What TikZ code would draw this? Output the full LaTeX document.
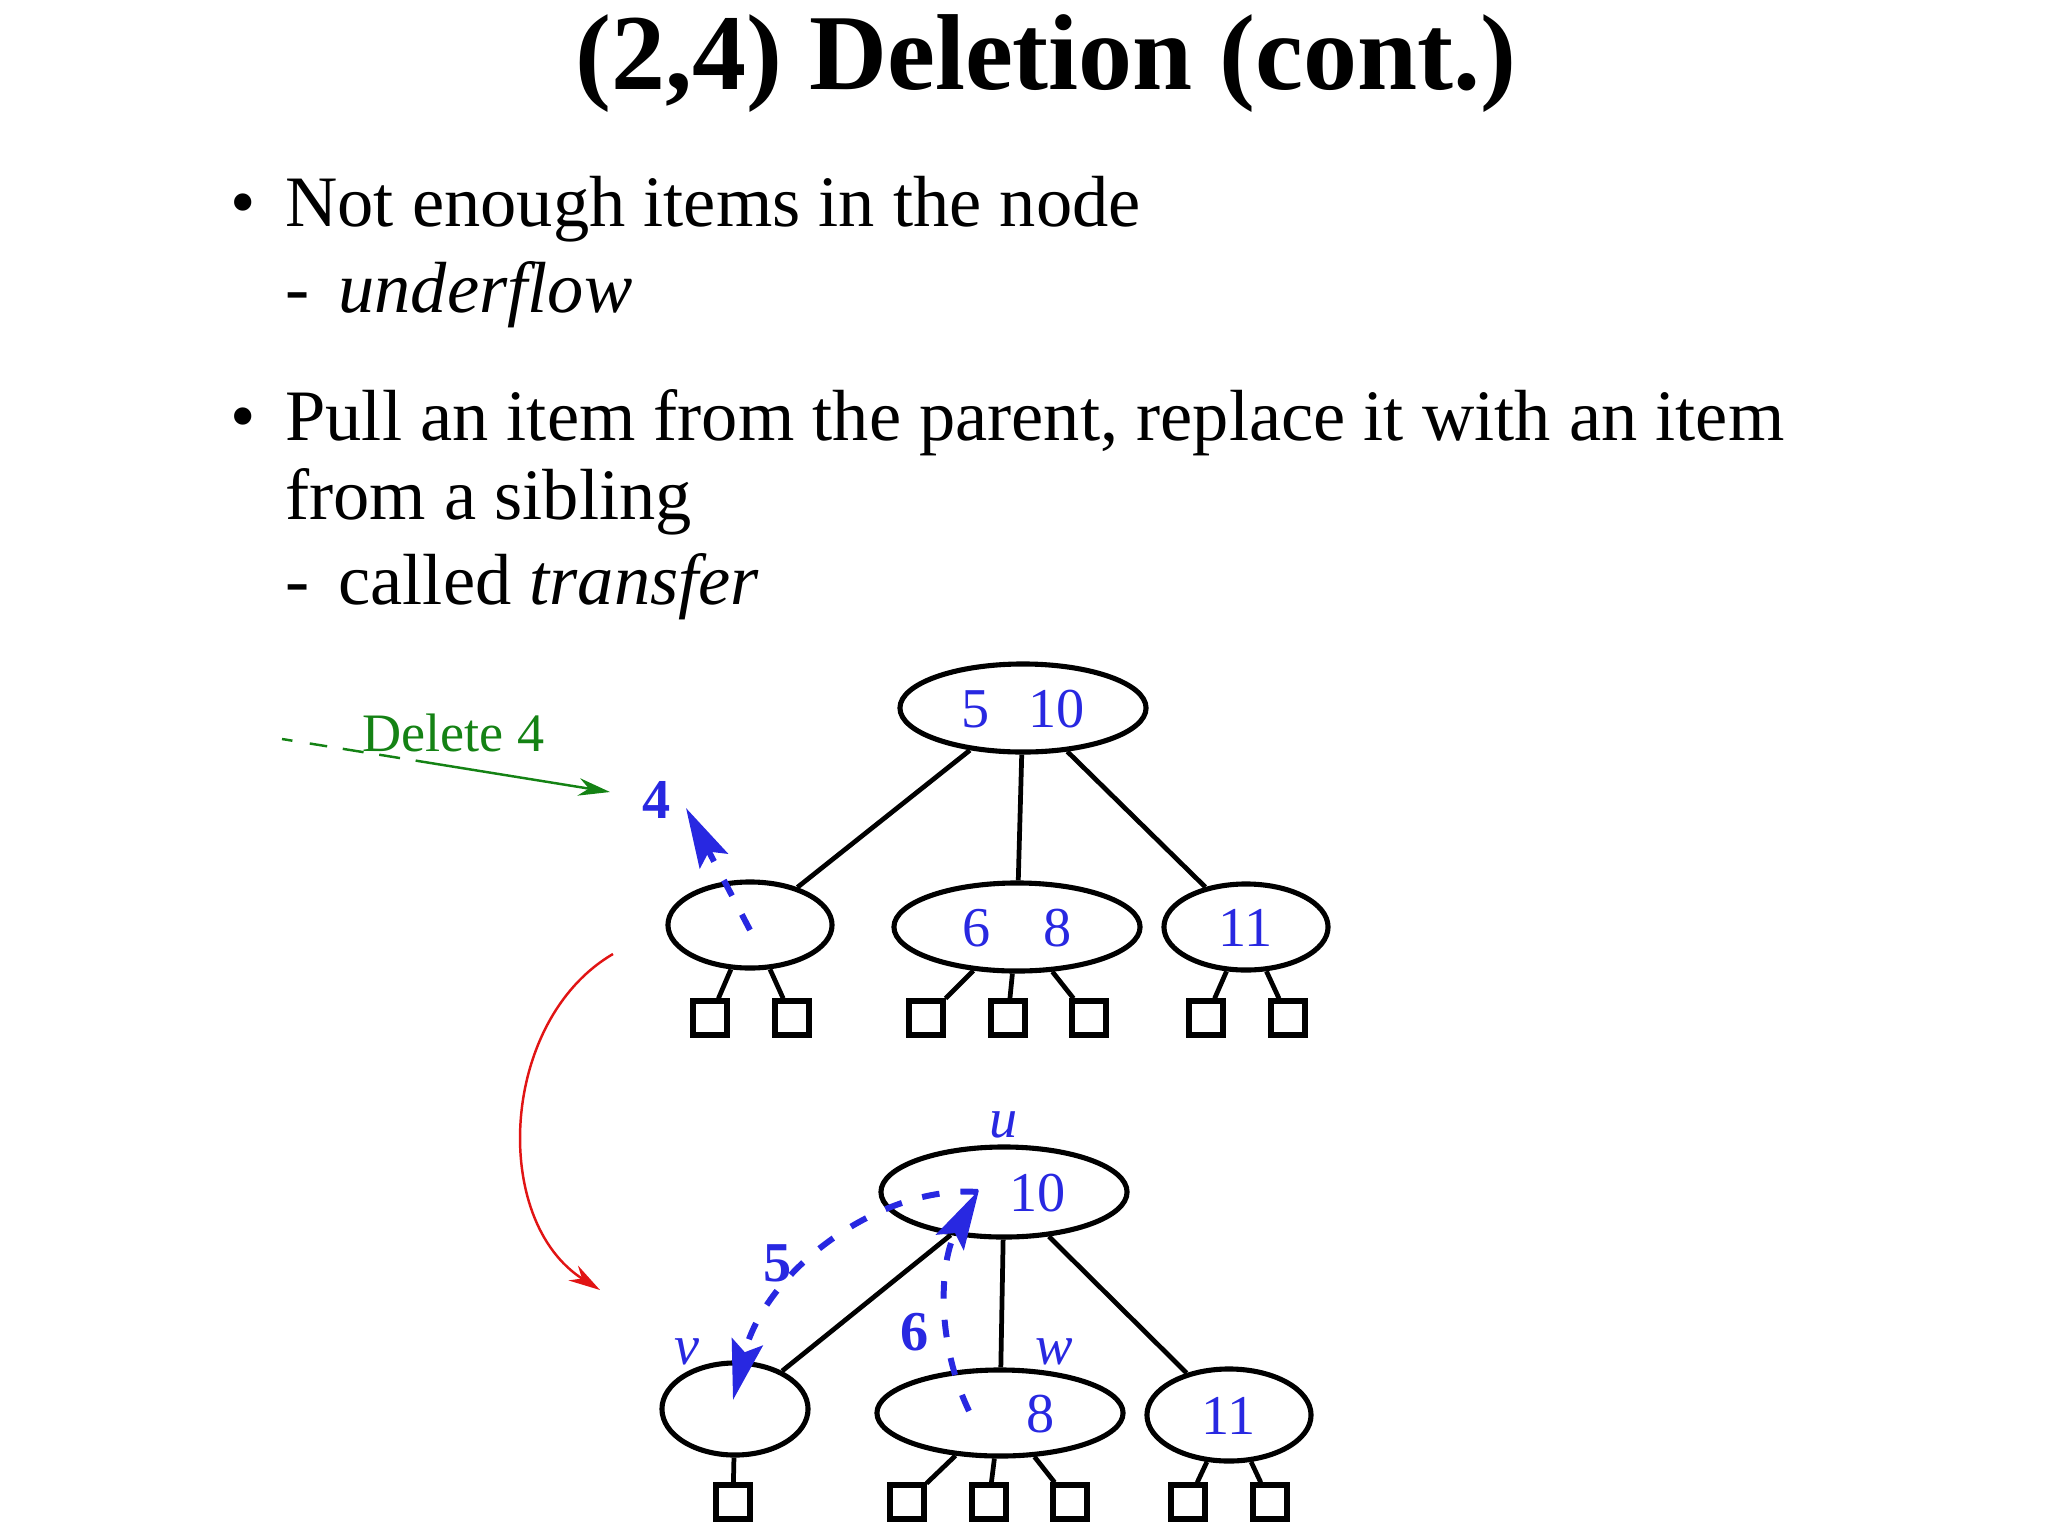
\documentclass[tikz,border=0pt]{standalone}
\usepackage{fontspec}
\setmainfont{Liberation Serif}
\usetikzlibrary{arrows.meta, shapes.geometric}

\definecolor{keyblue}{RGB}{40,40,225}
\definecolor{delgreen}{RGB}{20,130,20}
\definecolor{flowred}{RGB}{225,20,20}

\tikzset{
    knode/.style={ellipse, draw, line width=1.45pt, inner sep=0pt, text=keyblue,
        font=\fontsize{16}{16}\selectfont, text height=1.1em, text depth=0pt},
    wide/.style={minimum width=2.46cm, minimum height=0.88cm},
    narrow/.style={minimum width=1.64cm, minimum height=0.86cm},
    leaf/.style={draw, rectangle, line width=1.45pt, minimum size=0.34cm, inner sep=0pt},
    link/.style={line width=1.35pt},
    movepath/.style={keyblue, line width=1.7pt, dash pattern=on 5pt off 6pt,
        -{Stealth[length=17pt, width=9pt, inset=3pt, fill=keyblue]}},
    movelabel/.style={text=keyblue, font=\fontsize{16}{16}\selectfont\bfseries},
    namelabel/.style={text=keyblue, font=\fontsize{16}{16}\selectfont\itshape},
    body/.style={anchor=base west, font=\fontsize{20.6}{24}\selectfont}
}

\begin{document}
\begin{tikzpicture}[x=0.01cm, y=-0.01cm, >=Stealth]
    \useasboundingbox (0,0) rectangle (2048,1536);

    % Title
    \node[anchor=base, font=\fontsize{30.7}{36}\selectfont\bfseries] (title) at (1046,89)
        {(2,4) Deletion (cont.)};

    % Bullets
    \node[body, anchor=base] (dotA) at (243,226) {\textbullet};
    \node[body] (pointA) at (273,226) {Not enough items in the node};
    \node[body] (subA) at (273,312) {-\hspace{0.4em}\textit{underflow}};
    \node[body, anchor=base] (dotB) at (243,440) {\textbullet};
    \node[body] (pointB) at (273,440) {Pull an item from the parent, replace it with an item};
    \node[body] (pointBb) at (273,519) {from a sibling};
    \node[body] (subB) at (273,604) {-\hspace{0.4em}called \textit{transfer}};

    % Upper tree (before)
    \node[knode, wide] (top) at (1023,708) {5\hspace{0.7em}10};
    \node[knode, narrow] (topL) at (750,925) {};
    \node[knode, wide] (topM) at (1017,927) {6\hspace{0.95em}8};
    \node[knode, narrow] (topR) at (1246,927) {11};

    \node[leaf] (tl1) at (710,1018) {};
    \node[leaf] (tl2) at (792,1018) {};
    \node[leaf] (tm1) at (926,1018) {};
    \node[leaf] (tm2) at (1008,1018) {};
    \node[leaf] (tm3) at (1089,1018) {};
    \node[leaf] (tr1) at (1206,1018) {};
    \node[leaf] (tr2) at (1288,1018) {};

    \draw[link] (top) -- (topL);
    \draw[link] (top) -- (topM);
    \draw[link] (top) -- (topR);
    \draw[link] (topL) -- (tl1);
    \draw[link] (topL) -- (tl2);
    \draw[link] (topM) -- (tm1);
    \draw[link] (topM) -- (tm2);
    \draw[link] (topM) -- (tm3);
    \draw[link] (topR) -- (tr1);
    \draw[link] (topR) -- (tr2);

    % Delete 4
    \node[anchor=base west, text=delgreen, font=\fontsize{15.4}{16}\selectfont] (del) at (350,751) {Delete 4};
    \coordinate (delstart) at (282,739);
    \coordinate (delend) at (610,792);
    \draw[delgreen, line width=0.7pt,
        dash pattern=on 3pt off 5pt on 5pt off 4.5pt on 6pt off 4.5pt on 6pt off 4.5pt on 60pt,
        -{Stealth[length=9pt, width=5pt]}] (delstart) -- (delend);

    % 4 leaves the node
    \coordinate (fromL) at (750,930);
    \coordinate (tipA) at (686,808);
    \draw[movepath] (fromL) -- (tipA);
    \node[movelabel] (lblA) at (657,800) {4};

    % Red arrow to the result
    \coordinate (redstart) at (613,954);
    \coordinate (redend) at (600,1290);
    \draw[flowred, line width=0.7pt, -{Stealth[length=9pt, width=5pt]}]
        (redstart) .. controls (500,1020) and (490,1220) .. (redend);

    % Lower tree (after transfer)
    \node[knode, wide, minimum height=0.90cm] (u) at (1004,1192) {\phantom{5}\hspace{0.7em}10};
    \node[knode, minimum width=1.46cm, minimum height=0.92cm] (v) at (735,1409) {};
    \node[knode, wide, minimum height=0.86cm] (w) at (1000,1413) {\phantom{6}\hspace{0.95em}8};
    \node[knode, narrow, minimum height=0.92cm] (x) at (1229,1415) {11};

    \node[namelabel] (lblU) at (1004,1125) {u};
    \node[namelabel] (lblV) at (687,1352) {v};
    \node[namelabel] (lblW) at (1054,1352) {w};

    \node[leaf] (bv1) at (733,1502) {};
    \node[leaf] (bw1) at (907,1502) {};
    \node[leaf] (bw2) at (989,1502) {};
    \node[leaf] (bw3) at (1070,1502) {};
    \node[leaf] (bx1) at (1188,1502) {};
    \node[leaf] (bx2) at (1270,1502) {};

    \draw[link] (u) -- (v);
    \draw[link] (u) -- (w);
    \draw[link] (u) -- (x);
    \draw[link] (v) -- (bv1);
    \draw[link] (w) -- (bw1);
    \draw[link] (w) -- (bw2);
    \draw[link] (w) -- (bw3);
    \draw[link] (x) -- (bx1);
    \draw[link] (x) -- (bx2);

    % 5 moves down to v, 6 moves up to u
    \coordinate (fromU) at (978,1192);
    \coordinate (intoV) at (733,1400);
    \draw[movepath] (fromU) .. controls (880,1185) and (765,1270) .. (intoV);
    \node[movelabel] (lblB) at (778,1263) {5};

    \coordinate (fromW) at (969,1411);
    \coordinate (intoU) at (979,1190);
    \draw[movepath] (fromW) .. controls (935,1340) and (940,1260) .. (intoU);
    \node[movelabel] (lblC) at (915,1332) {6};

\end{tikzpicture}
\end{document}
